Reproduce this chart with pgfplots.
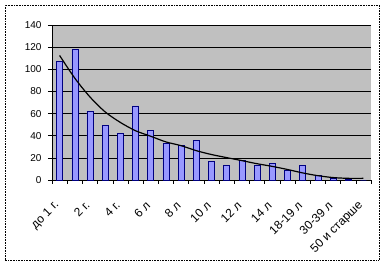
\documentclass[border=0pt]{standalone}
\usepackage{pgfplots}
\pgfplotsset{compat=1.18}
\usepackage{fontspec}
\setmainfont{Liberation Sans}
\definecolor{barfill}{RGB}{153,153,255}
\definecolor{barline}{RGB}{0,0,128}
\definecolor{plotbg}{RGB}{192,192,192}
\begin{document}
\begin{tikzpicture}
\begin{axis}[
  scale only axis,
  width=319pt, height=155pt,
  xmin=-0.5, xmax=20.5,
  ymin=0, ymax=140,
  ytick={0,20,...,140},
  xtick={0,2,...,20},
  xticklabels={до 1 г.,2 г.,4 г.,6 л,8 л,10 л,12 л,14 л,18-19 л,30-39 л,50 и старше},
  minor xtick={-0.5,0.5,...,20.5},
  major x tick style={draw=none},
  tick align=outside,
  major tick length=4pt,
  minor tick length=4pt,
  every tick/.style={black, line width=0.5pt},
  axis x line*=bottom,
  axis y line*=left,
  axis line style={-, black, line width=0.6pt},
  ymajorgrids,
  major grid style={black, line width=0.5pt},
  axis background/.style={fill=plotbg},
  /pgf/number format/assume math mode=true,
  tick label style={font=\fontsize{10}{12}\selectfont},
  yticklabel style={xshift=-3pt},
  xticklabel style={font=\fontsize{12}{14}\selectfont, rotate=45, anchor=east, xshift=-12pt, yshift=-12pt},
  clip=false,
]
\addplot[ybar, bar width=6pt, fill=barfill, draw=barline, line width=0.5pt]
  coordinates {
  (0,107) (1,118) (2,62) (3,49) (4,42) (5,67) (6,45) (7,33) (8,31) (9,36)
  (10,17) (11,13) (12,17.5) (13,13) (14,15) (15,9) (16,13) (17,4.5) (18,2) (19,0.5) (20,0)
  };
\addplot[black, line width=1.2pt, smooth, mark=none]
  coordinates {
  (0,112.5) (1,92) (2,75) (3,61.5) (4,52) (5,44.5) (6,39.5) (7,34.4) (8,31) (9,26.5)
  (10,23) (11,20.2) (12,17.5) (13,14.7) (14,12.3) (15,9.5) (16,6.4) (17,3.9) (18,2.2) (19,1.5) (20,1.5)
  };
\end{axis}
\draw[black, densely dotted, line width=0.6pt]
  ([shift={(-47pt,-80pt)}]current axis.south west) rectangle ([shift={(8pt,20pt)}]current axis.north east);
\path ([shift={(-52pt,-87pt)}]current axis.south west) rectangle ([shift={(15pt,25pt)}]current axis.north east);
\end{tikzpicture}
\end{document}
